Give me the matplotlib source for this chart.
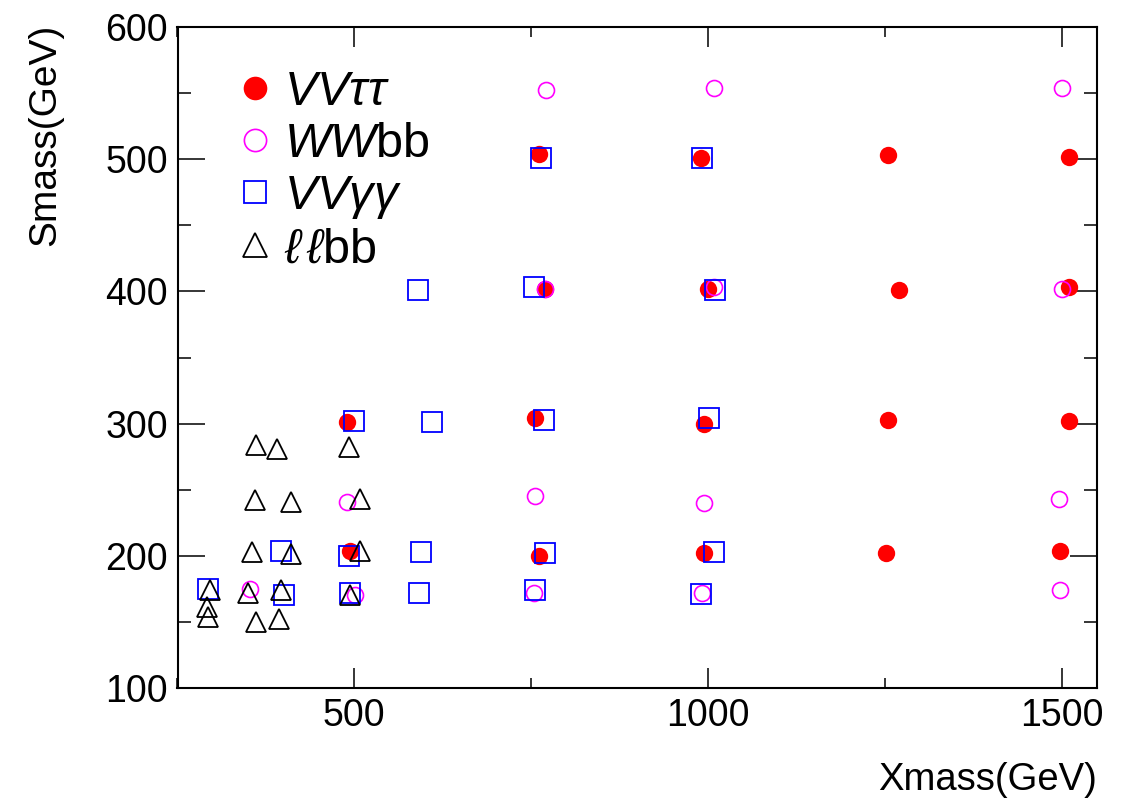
import matplotlib
matplotlib.use("Agg")
import matplotlib.pyplot as plt
from matplotlib.lines import Line2D
from matplotlib.ticker import MultipleLocator

plt.rcParams['font.family'] = ['Liberation Sans', 'DejaVu Sans']
plt.rcParams['mathtext.fontset'] = 'custom'
plt.rcParams['mathtext.rm'] = 'Liberation Sans'
plt.rcParams['mathtext.it'] = 'Liberation Sans:italic'
plt.rcParams['mathtext.bf'] = 'Liberation Sans:bold'

# ---- data (Xmass, Smass) ----
vvtautau_x = [490, 494, 761, 770, 756, 761, 990, 1000, 994, 994, 1255, 1270, 1255, 1252, 1510, 1510, 1510, 1497]
vvtautau_y = [301, 204, 504, 402, 304, 200, 501, 402, 300, 202, 503, 401, 303, 202, 502, 403, 302, 204]

wwbb_x = [353, 490, 501, 771, 770, 756, 754, 1009, 1009, 994, 992, 1501, 1500, 1496, 1497]
wwbb_y = [175, 241, 170, 552, 402, 245, 172, 554, 403, 240, 172, 554, 402, 243, 174]

vvgg_x = [293, 396, 401, 493, 494, 500, 590, 610, 594, 592, 764, 754, 768, 770, 756, 992, 1010, 1001, 1008, 990]
vvgg_y = [175, 204, 170, 200, 172, 302, 401, 301, 203, 172, 501, 403, 303, 202, 174, 501, 401, 304, 203, 171]

llbb_x = [361, 390, 493, 360, 410, 508, 355, 410, 508, 296, 350, 396, 494, 292, 293, 361, 394]
llbb_y = [284, 281, 282, 242, 241, 243, 203, 201, 204, 174, 172, 174, 170, 161, 154, 150, 152]

labels = [r'$VV\tau\tau$', r'$WW$bb', r'$VV\gamma\gamma$', r'$\ell\,\ell$bb']
x_ticks = [500, 1000, 1500]
y_ticks = [100, 200, 300, 400, 500, 600]

fig = plt.figure(figsize=(11.29, 8.01), dpi=100)
ax = fig.add_axes([177.5/1129, 1 - 688/801, (1097-177.5)/1129, (688-27)/801])

ax.plot(vvtautau_x, vvtautau_y, ls='none', marker='o', ms=12.5, mfc='red', mec='red', mew=0)
ax.plot(wwbb_x, wwbb_y, ls='none', marker='o', ms=11.5, mfc='none', mec='#ff00ff', mew=1.2)
ax.plot(vvgg_x, vvgg_y, ls='none', marker='s', ms=14.5, mfc='none', mec='#0000ff', mew=1.3)
ax.plot(llbb_x, llbb_y, ls='none', marker='^', ms=15, mfc='none', mec='black', mew=1.3)

ax.set_xlim(250, 1550)
ax.set_ylim(100, 600)
ax.set_xticks(x_ticks)
ax.set_yticks(y_ticks)
ax.xaxis.set_minor_locator(MultipleLocator(250))
ax.yaxis.set_minor_locator(MultipleLocator(50))
ax.tick_params(axis='both', which='both', direction='in', top=True, right=True,
               labelsize=27, width=1.1, color='black')
ax.tick_params(axis='x', which='major', length=14.5, pad=7)
ax.tick_params(axis='x', which='minor', length=7)
ax.tick_params(axis='y', which='major', length=19.5, pad=7)
ax.tick_params(axis='y', which='minor', length=9.5)
for s in ax.spines.values():
    s.set_linewidth(1.5)

handles = [
    Line2D([], [], ls='none', marker='o', ms=17, mfc='red', mec='red', mew=0),
    Line2D([], [], ls='none', marker='o', ms=16, mfc='none', mec='#ff00ff', mew=1.2),
    Line2D([], [], ls='none', marker='s', ms=16, mfc='none', mec='#0000ff', mew=1.3),
    Line2D([], [], ls='none', marker='^', ms=17, mfc='none', mec='black', mew=1.3),
]
ax.legend(handles, labels, loc='upper left', bbox_to_anchor=((233-177.5)/919.5, (688-70)/661),
          frameon=False, fontsize=35, handlelength=0.9, handletextpad=0.15,
          labelspacing=0.14, borderpad=0, borderaxespad=0)

fig.text(45/1129, 1 - 24/801, 'Smass(GeV)', rotation=90, ha='center', va='top', fontsize=28)
fig.text(1097/1129, 1 - 790/801, 'Xmass(GeV)', ha='right', va='baseline', fontsize=27.5)

fig.savefig('out.png', dpi=100)
